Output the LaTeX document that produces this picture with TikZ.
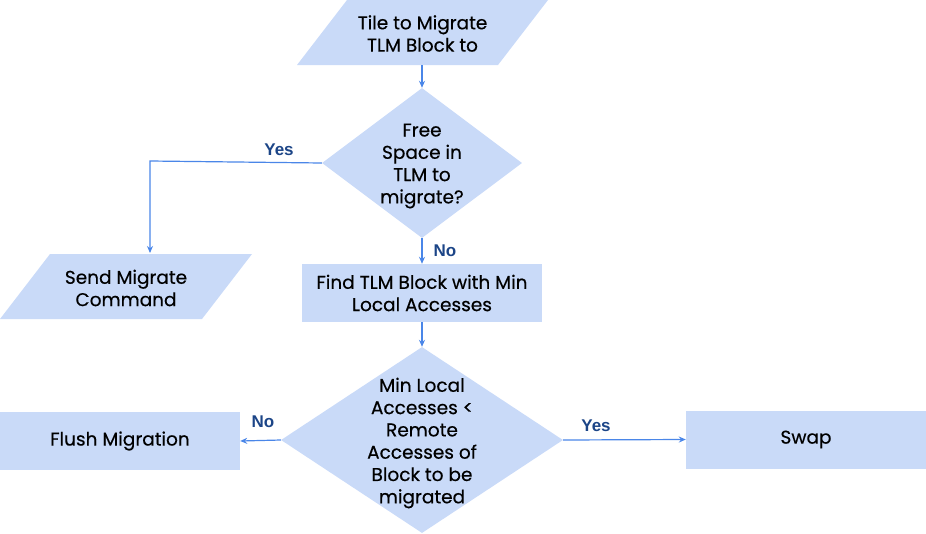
\documentclass[tikz,border=0pt]{standalone}
\usepackage{fontspec}
\setmainfont{Poppins}[FakeBold=0.4]
\newfontfamily\yesnofont{Liberation Sans}
\usetikzlibrary{shapes.geometric,arrows.meta}

\definecolor{boxfill}{HTML}{C9DAF8}
\definecolor{flowline}{HTML}{4A86E8}
\definecolor{yesno}{HTML}{1C4587}

\tikzset{
	box/.style={rectangle, fill=boxfill, inner sep=0pt, minimum width=240pt, minimum height=58pt},
	decide/.style={diamond, fill=boxfill, inner sep=0pt},
	txt/.style={align=center, font=\fontsize{18.5}{22.3}\selectfont, text=black},
	flow/.style={draw=flowline, line width=1.2pt, -{Stealth[length=7pt,width=6pt]}},
	answer/.style={font=\yesnofont\fontsize{17}{20}\selectfont\bfseries, text=yesno}
}

\begin{document}
\begin{tikzpicture}[x=1pt,y=-1pt]
	\useasboundingbox (0,0) rectangle (926,533);

	% input / output boxes
	\fill [boxfill] (297,65) -- (347,0) -- (548,0) -- (498,65) -- cycle;
	\node (tile) [txt] at (422.5,33.5) {Tile to Migrate\\TLM Block to};
	\coordinate (tilebot) at (422,65);

	\fill [boxfill] (0,319) -- (50,254) -- (252,254) -- (202,319) -- cycle;
	\node (send) [txt] at (126,288) {Send Migrate\\Command};
	\coordinate (sendtop) at (150,253);

	\node (free) [decide, minimum width=200pt, minimum height=150pt] at (422,163) {};
	\node (freetxt) [txt] at (422,166) {Free\\Space in\\TLM to\\migrate?};

	\node (find) [box] at (422,293) {};
	\node (findtxt) [txt] at (find.center) {Find TLM Block with Min\\Local Accesses};

	\node (cmp) [decide, minimum width=282pt, minimum height=186pt] at (422,440) {};
	\node (cmptxt) [txt] at (422,443) {Min Local\\Accesses <\\Remote\\Accesses of\\Block to be\\migrated};

	\node (flush) [box] at (120,441) {};
	\node (flushtxt) [txt] at (flush.center) {Flush Migration};

	\node (swap) [box] at (806,439.5) {};
	\node (swaptxt) [txt] at (swap.center) {Swap};

	\coordinate (yesbend) at (150,161);

	\draw [flow] (tilebot) -- (free.north);
	\draw [flow] (free.west) -- (yesbend) -- (sendtop);
	\draw [flow] (free.south) -- (find.north);
	\draw [flow] (find.south) -- (cmp.north);
	\draw [flow] (cmp.west) -- (flush.east);
	\draw [flow] (cmp.east) -- (swap.west);

	\node (yes1) [answer] at (279,150) {Yes};
	\node (no1) [answer] at (445,251) {No};
	\node (no2) [answer] at (263,422) {No};
	\node (yes2) [answer] at (596,426) {Yes};
\end{tikzpicture}
\end{document}
